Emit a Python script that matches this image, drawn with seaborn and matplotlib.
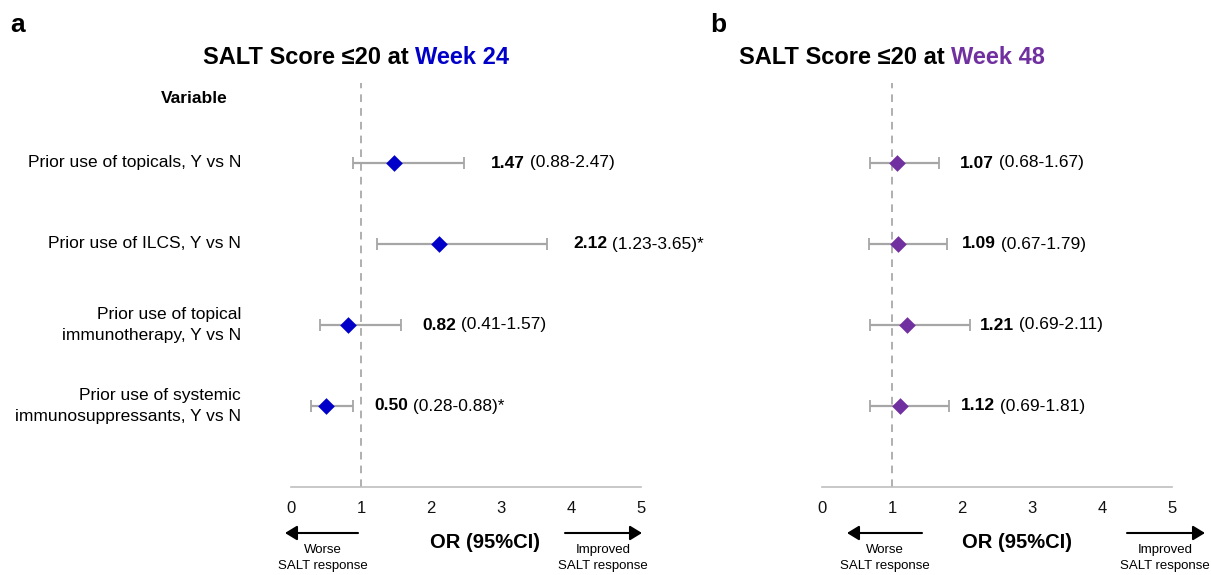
import matplotlib
matplotlib.use("Agg")
import matplotlib.pyplot as plt
import seaborn as sns
import pandas as pd

# data
variables = ["Prior use of topicals, Y vs N",
             "Prior use of ILCS, Y vs N",
             "Prior use of topical\nimmunotherapy, Y vs N",
             "Prior use of systemic\nimmunosuppressants, Y vs N"]
or_w24 = [1.47, 2.12, 0.82, 0.50]
lo_w24 = [0.88, 1.23, 0.41, 0.28]
hi_w24 = [2.47, 3.65, 1.57, 0.88]
sig_w24 = [False, True, False, True]
or_w48 = [1.07, 1.09, 1.21, 1.12]
lo_w48 = [0.68, 0.67, 0.69, 0.69]
hi_w48 = [1.67, 1.79, 2.11, 1.81]
sig_w48 = [False, False, False, False]
ticks = [0, 1, 2, 3, 4, 5]

W, H = 1211, 575
def fx(px):
    return px / W
def fy(py):
    return 1 - py / H

sns.set_style("white")
plt.rcParams['font.family'] = ['Liberation Sans', 'DejaVu Sans']
plt.rcParams['text.color'] = 'black'

fig = plt.figure(figsize=(W / 100, H / 100), dpi=100)

blue = "#0000C8"
purple = "#7030A0"
grey_bar = "#A6A6A6"


def forest(ax, ors, los, his, sig, color, txt_x):
    df = pd.DataFrame({"row": range(len(ors)), "or": ors, "lo": los, "hi": his})
    ax.errorbar(df["or"], df["row"], xerr=[df["or"] - df["lo"], df["hi"] - df["or"]],
                fmt="none", ecolor=grey_bar, elinewidth=1.6, capsize=4.3, capthick=1.3, zorder=2)
    sns.scatterplot(data=df, x="or", y="row", marker="D", s=72, color=color,
                    linewidth=0, ax=ax, zorder=3)
    ax.axvline(1, color="#9A9A9A", lw=1.1, ls=(0, (5, 4)), zorder=1)
    ax.set_xlim(0, 5)
    ax.set_ylim(4.0, -(163 - 83) / 81)
    ax.set_xticks(ticks)
    ax.set_yticks([])
    ax.set_xlabel("")
    ax.set_ylabel("")
    sns.despine(ax=ax, left=True)
    ax.spines["bottom"].set_color("#BFBFBF")
    ax.spines["bottom"].set_linewidth(1.2)
    ax.tick_params(axis="x", length=4, width=1, color="#BFBFBF", labelsize=12,
                   pad=6, labelcolor="#111111")
    for i in range(len(ors)):
        t = ax.text(txt_x[i], i, f"{ors[i]:.2f}", fontsize=12.5, weight="bold",
                    va="center", ha="left")
        rest = f" ({los[i]:.2f}-{his[i]:.2f})" + ("*" if sig[i] else "")
        ax.annotate(rest, xy=(1, 0), xycoords=t, va="bottom", ha="left", fontsize=12.5)


ax_a = fig.add_axes([fx(291), fy(487), 350 / W, (487 - 83) / H])
ax_b = fig.add_axes([fx(822), fy(487), 350 / W, (487 - 83) / H])

forest(ax_a, or_w24, lo_w24, hi_w24, sig_w24, blue, [2.86, 4.03, 1.87, 1.19])
forest(ax_b, or_w48, lo_w48, hi_w48, sig_w48, purple, [1.97, 2.0, 2.26, 1.99])

# row labels on panel a
for i, v in enumerate(variables):
    ax_a.text(-0.714, i, v, ha="right", va="center", multialignment="right",
              fontsize=12.5, linespacing=1.55)
ax_a.text(-1.386, -0.80, "Variable", ha="center", va="center", fontsize=12.5, weight="bold")

# panel letters and titles
fig.text(fx(18), fy(25), "a", fontsize=19, weight="bold", ha="center", va="center")
fig.text(fx(718), fy(25), "b", fontsize=19, weight="bold", ha="center", va="center")

for x0, week, col in [(203, "Week 24", blue), (739, "Week 48", purple)]:
    t = fig.text(fx(x0), fy(57), "SALT Score \u226420 at ", fontsize=17, weight="bold",
                 ha="left", va="center")
    ax_a.annotate(week, xy=(1, 0), xycoords=t, va="bottom", ha="left",
                  fontsize=17, weight="bold", color=col)

# bottom arrows and labels
arrow = dict(arrowstyle="-|>,head_length=0.36,head_width=0.22", color="black",
             lw=1.5, mutation_scale=20, shrinkA=0, shrinkB=0)
for lx0, lx1, worse_x, or_x, rx0, rx1, imp_x in [(358, 285, 323, 485, 565, 642, 603),
                                                 (922, 847, 885, 1017, 1127, 1205, 1165)]:
    ax_a.annotate("", xy=(fx(lx1), fy(533)), xytext=(fx(lx0), fy(533)),
                  xycoords="figure fraction", arrowprops=arrow)
    ax_a.annotate("", xy=(fx(rx1), fy(533)), xytext=(fx(rx0), fy(533)),
                  xycoords="figure fraction", arrowprops=arrow)
    fig.text(fx(worse_x), fy(558), "Worse\nSALT response", fontsize=9.5,
             ha="center", va="center", linespacing=1.35)
    fig.text(fx(imp_x), fy(558), "Improved\nSALT response", fontsize=9.5,
             ha="center", va="center", linespacing=1.35)
    fig.text(fx(or_x), fy(542), "OR (95%CI)", fontsize=14.5, weight="bold",
             ha="center", va="center")

plt.savefig("out.png", dpi=100)
